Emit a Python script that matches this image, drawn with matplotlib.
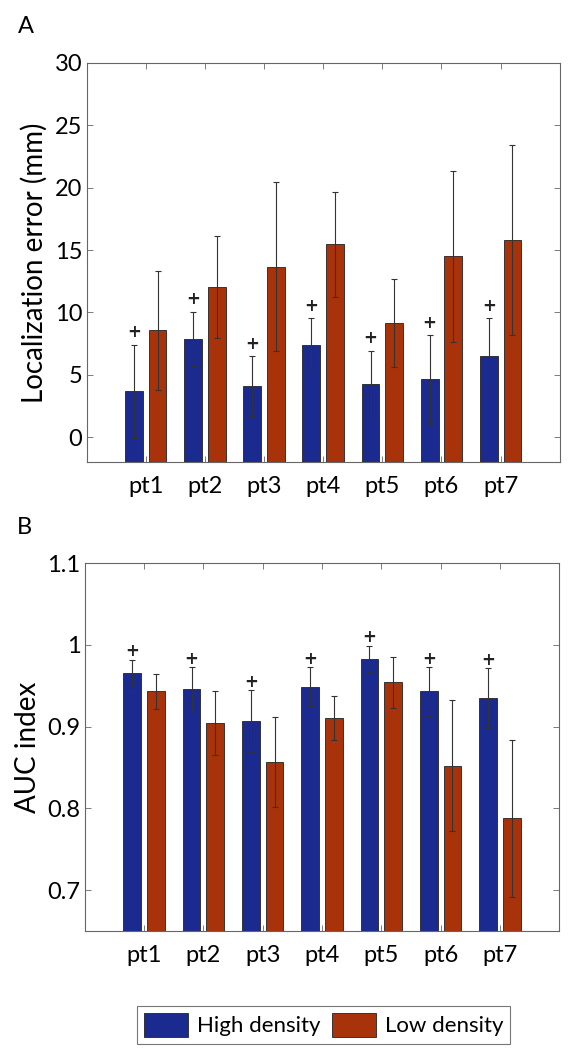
import matplotlib
matplotlib.use("Agg")
import matplotlib.pyplot as plt
import numpy as np
from matplotlib.patches import Patch

plt.rcParams['font.family'] = ['Lato', 'DejaVu Sans']

categories = ["pt1", "pt2", "pt3", "pt4", "pt5", "pt6", "pt7"]

# Panel A: localization error (mm)
loc_high_mean = [3.67, 7.86, 4.10, 7.42, 4.28, 4.63, 6.54]
loc_high_std = [3.75, 2.20, 2.40, 2.10, 2.65, 3.55, 3.00]
loc_low_mean = [8.56, 12.05, 13.67, 15.45, 9.15, 14.50, 15.80]
loc_low_std = [4.75, 4.10, 6.80, 4.20, 3.50, 6.85, 7.60]

# Panel B: AUC index
auc_high_mean = [0.965, 0.946, 0.907, 0.949, 0.983, 0.943, 0.935]
auc_high_std = [0.017, 0.027, 0.038, 0.024, 0.016, 0.030, 0.037]
auc_low_mean = [0.943, 0.904, 0.857, 0.910, 0.954, 0.852, 0.788]
auc_low_std = [0.021, 0.039, 0.055, 0.027, 0.031, 0.080, 0.096]

# significance markers (on high-density bars)
sig_marker = ["+", "+", "+", "+", "+", "+", "+"]

series_labels = ["High density", "Low density"]
colors = ["#1a2a8f", "#a8320a"]

TICK_FS = 17
LABEL_FS = 20
fig = plt.figure(figsize=(5.73, 10.5), dpi=100)
axA = fig.add_axes([0.151, 0.56, 0.826, 0.38])
axB = fig.add_axes([0.148, 0.1133, 0.828, 0.3505])

x = np.arange(1, len(categories) + 1)
w = 0.3
off = 0.2


def draw(ax, hm, hs, lm, ls, ylim, yticks, yticklabels, ylabel, sig_off):
    base = ylim[0]
    hm_a = np.asarray(hm)
    lm_a = np.asarray(lm)
    ax.bar(x - off, hm_a - base, w, bottom=base, color=colors[0], edgecolor="#222222",
           linewidth=0.6, zorder=2)
    ax.bar(x + off, lm_a - base, w, bottom=base, color=colors[1], edgecolor="#222222",
           linewidth=0.6, zorder=2)
    ax.errorbar(x - off, hm, yerr=hs, fmt="none", ecolor="#333333", elinewidth=0.8,
                capsize=2, capthick=0.8, zorder=3)
    ax.errorbar(x + off, lm, yerr=ls, fmt="none", ecolor="#333333", elinewidth=0.8,
                capsize=2, capthick=0.8, zorder=3)
    for xi, m, s, mk in zip(x - off, hm, hs, sig_marker):
        ax.text(xi, m + s + sig_off, mk, ha="center", va="center", fontsize=12,
                fontweight="bold", color="#222222", family="DejaVu Sans")
    ax.set_xlim(0, 8)
    ax.set_ylim(*ylim)
    ax.set_xticks(x)
    ax.set_xticklabels(categories, fontsize=TICK_FS)
    ax.set_yticks(yticks)
    ax.set_yticklabels(yticklabels, fontsize=TICK_FS)
    ax.set_ylabel(ylabel, fontsize=LABEL_FS, labelpad=5)
    ax.tick_params(direction="in", length=4, width=0.6, color="#666666",
                   top=True, right=True)
    ax.tick_params(axis="x", pad=10)
    ax.tick_params(axis="y", pad=3)
    for sp in ax.spines.values():
        sp.set_color("#666666")
        sp.set_linewidth(0.8)


draw(axA, loc_high_mean, loc_high_std, loc_low_mean, loc_low_std, (-2, 30),
     [0, 5, 10, 15, 20, 25, 30], ["0", "5", "10", "15", "20", "25", "30"],
     "Localization error (mm)", 1.0)
draw(axB, auc_high_mean, auc_high_std, auc_low_mean, auc_low_std, (0.65, 1.1),
     [0.7, 0.8, 0.9, 1.0, 1.1], ["0.7", "0.8", "0.9", "1", "1.1"],
     "AUC index", 0.01)

fig.text(0.046, 0.975, "A", fontsize=TICK_FS, ha="center", va="center")
fig.text(0.042, 0.498, "B", fontsize=TICK_FS, ha="center", va="center")

handles = [Patch(facecolor=colors[0], edgecolor="#222222", linewidth=0.6),
           Patch(facecolor=colors[1], edgecolor="#222222", linewidth=0.6)]
leg = fig.legend(handles, series_labels, loc="center", bbox_to_anchor=(0.565, 0.0238),
                 ncol=2, fontsize=16, frameon=True, fancybox=False, edgecolor="#555555",
                 handlelength=2.0, handleheight=1.27, handletextpad=0.4, columnspacing=0.5,
                 borderpad=0.3)
leg.get_frame().set_linewidth(0.8)

fig.savefig("out.png", dpi=100)
